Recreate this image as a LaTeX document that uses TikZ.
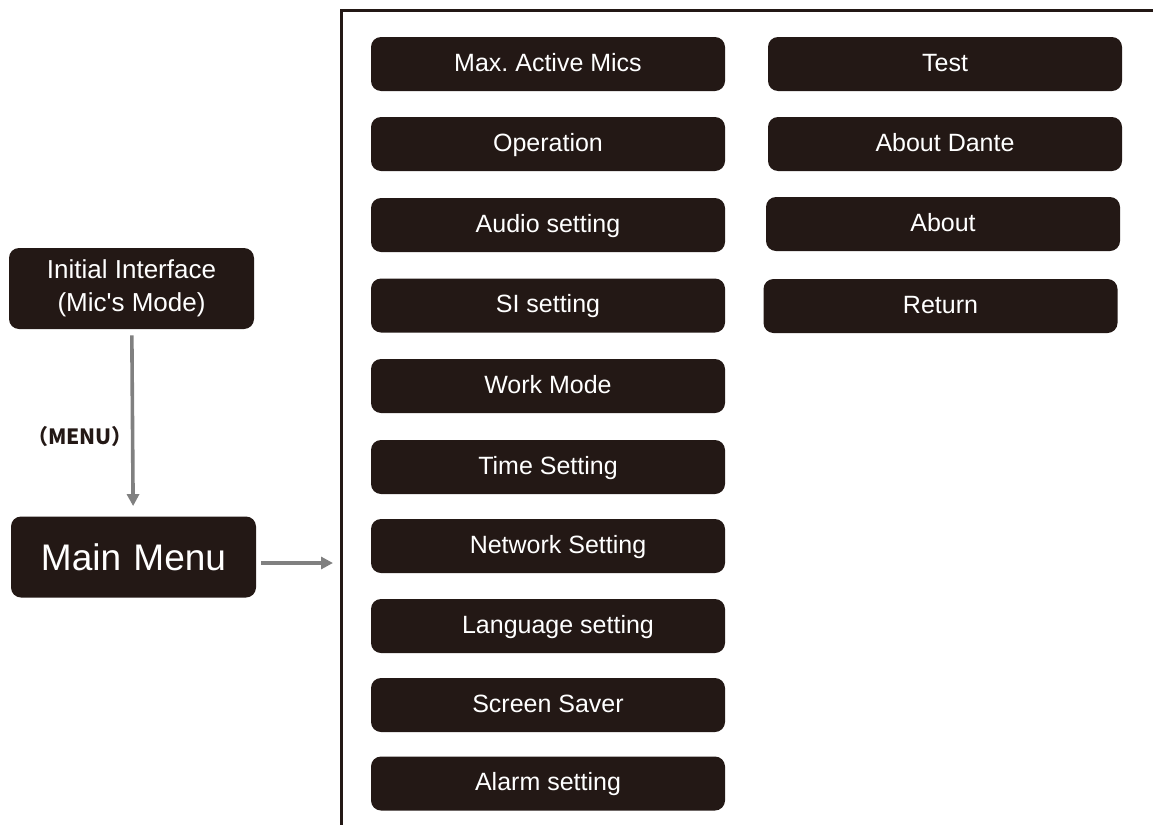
\documentclass[tikz,border=0pt]{standalone}
\usepackage{fontspec}
\setmainfont{Liberation Sans}
\newfontfamily\cjk{Noto Sans CJK SC}
\usetikzlibrary{arrows.meta}
\definecolor{btnfill}{HTML}{231815}
\definecolor{arrowgray}{HTML}{808080}
\tikzset{
  btn/.style={rectangle, rounded corners=5pt, fill=btnfill, text=white, minimum width=177pt, minimum height=27pt, inner sep=0pt, text height=9.5pt, text depth=2.5pt, font=\fontsize{12.5}{15}\selectfont},
  startbtn/.style={btn, minimum width=122.5pt, minimum height=40.5pt, align=center, text height=, text depth=, font=\fontsize{13}{16.5}\selectfont},
  flow/.style={draw=arrowgray, line width=1.8pt, -{Triangle[length=6pt,width=6pt]}}
}
\frenchspacing
\begin{document}
\begin{tikzpicture}[x=0.5pt,y=-0.5pt]
        \useasboundingbox (0,0) rectangle (1153,825);
        \draw[btnfill, line width=1.5pt] (341,825) -- (341,10) -- (1153,10);

        \node[startbtn] (a) at (131.5,288.5) {Initial Interface\\(Mic\textquotesingle s Mode)};
        \node[startbtn, text height=13.5pt, text depth=0pt, font=\fontsize{18.5}{22}\selectfont] (b) at (133.5,557) {Main\,\,Menu};
        \node[text=btnfill, font=\cjk\bfseries\fontsize{10.5}{12}\selectfont] (m) at (80,437) {（MENU）};
        \coordinate (f) at (341,563);

        \node[btn] (c) at (548,64) {Max. Active Mics};
        \node[btn] (d) at (548,144) {Operation};
        \node[btn] (e) at (548,225) {Audio setting};
        \node[btn] (g) at (548,305.5) {SI setting};
        \node[btn] (h) at (548,386) {Work Mode};
        \node[btn] (i) at (548,467) {Time Setting};
        \node[btn] (j) at (548,546) {\hspace{10pt}Network Setting};
        \node[btn] (k) at (548,626) {\hspace{10pt}Language setting};
        \node[btn] (l) at (548,705) {Screen Saver};
        \node[btn] (n) at (548,783.5) {Alarm setting};

        \node[btn] (o) at (945,64) {Test};
        \node[btn] (p) at (945,144) {About Dante};
        \node[btn] (q) at (943,224) {About};
        \node[btn] (r) at (940.5,306) {Return};

        \draw[flow, shorten <=3pt, shorten >=5pt] (a) -- (b);
        \draw[flow, shorten <=2.5pt, shorten >=4pt] (b.east |- f) -- (f);
        
    \end{tikzpicture}
\end{document}
